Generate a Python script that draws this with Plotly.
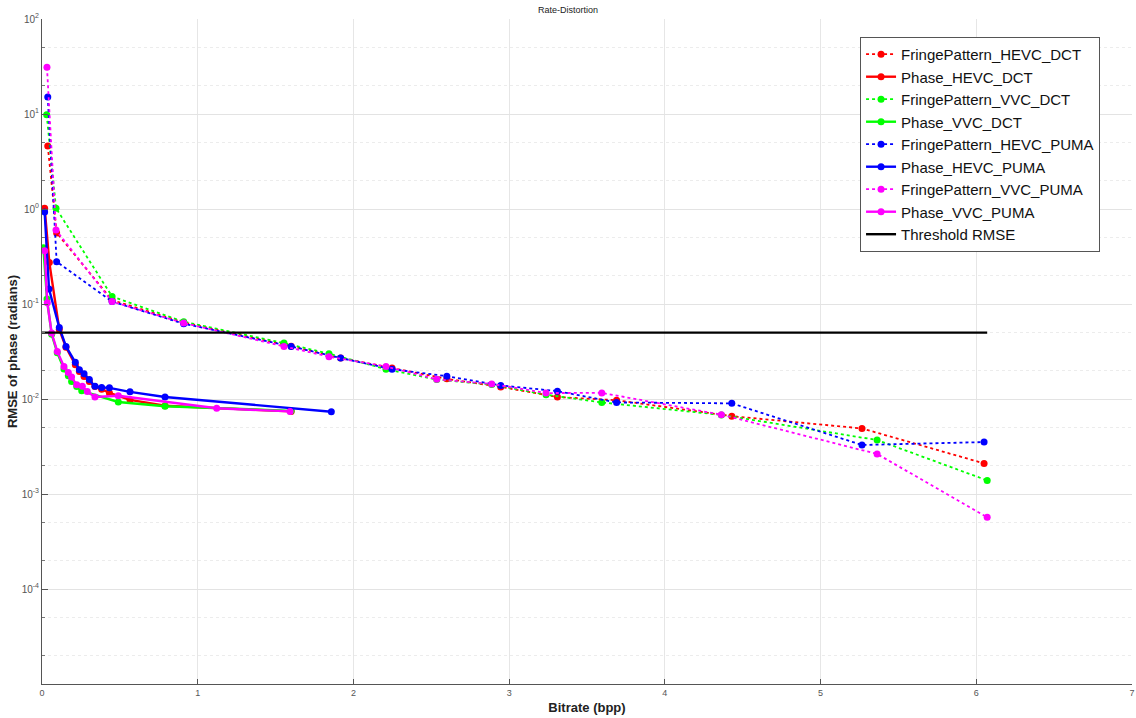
import plotly.graph_objects as go

# ---------------- data ----------------
fp_hevc_dct_x = [0.037, 0.094, 0.45, 0.91, 1.60, 1.918, 2.248, 2.60, 2.946, 3.31, 3.69, 4.43, 5.266, 6.05]
fp_hevc_dct_y = [4.6, 0.56, 0.11, 0.064, 0.036, 0.027, 0.0212, 0.0163, 0.0134, 0.0105, 0.0097, 0.0066, 0.0049, 0.0021]

ph_hevc_dct_x = [0.017, 0.047, 0.111, 0.154, 0.214, 0.24, 0.27, 0.304, 0.34, 0.383, 0.433, 0.565, 0.79, 1.60]
ph_hevc_dct_y = [1.02, 0.274, 0.054, 0.035, 0.023, 0.0195, 0.0173, 0.0153, 0.0135, 0.0127, 0.0116, 0.0098, 0.0085, 0.0074]

fp_vvc_dct_x = [0.030, 0.090, 0.45, 0.91, 1.554, 1.843, 2.209, 2.535, 2.888, 3.237, 3.595, 4.363, 5.363, 6.07]
fp_vvc_dct_y = [9.8, 1.02, 0.12, 0.065, 0.0388, 0.030, 0.0206, 0.0160, 0.0142, 0.0111, 0.0092, 0.0068, 0.0037, 0.00139]

ph_vvc_dct_x = [0.009, 0.032, 0.062, 0.098, 0.141, 0.169, 0.19, 0.223, 0.255, 0.49, 0.79, 1.60]
ph_vvc_dct_y = [0.39, 0.113, 0.048, 0.0307, 0.0207, 0.0176, 0.0153, 0.0135, 0.0122, 0.0093, 0.0084, 0.0075]

fp_hevc_puma_x = [0.037, 0.094, 0.45, 0.91, 1.60, 1.918, 2.248, 2.60, 2.946, 3.31, 3.69, 4.43, 5.266, 6.05]
fp_hevc_puma_y = [15.1, 0.279, 0.106, 0.062, 0.0358, 0.027, 0.0206, 0.0174, 0.0139, 0.0121, 0.0092, 0.0090, 0.00328, 0.00352]

ph_hevc_puma_x = [0.017, 0.045, 0.111, 0.154, 0.214, 0.24, 0.27, 0.304, 0.34, 0.383, 0.433, 0.565, 0.79, 1.858]
ph_hevc_puma_y = [0.93, 0.144, 0.0567, 0.0358, 0.0243, 0.0203, 0.0184, 0.016, 0.0136, 0.0132, 0.0131, 0.0119, 0.0105, 0.00735]

fp_vvc_puma_x = [0.032, 0.090, 0.45, 0.91, 1.554, 1.843, 2.209, 2.535, 2.888, 3.237, 3.595, 4.363, 5.363, 6.07]
fp_vvc_puma_y = [31.0, 0.60, 0.106, 0.063, 0.0358, 0.0279, 0.022, 0.0161, 0.0144, 0.01155, 0.0116, 0.00684, 0.00264, 0.000568]

ph_vvc_puma_x = [0.017, 0.034, 0.062, 0.098, 0.141, 0.169, 0.19, 0.223, 0.259, 0.291, 0.34, 0.49, 1.122, 1.593]
ph_vvc_puma_y = [0.364, 0.103, 0.0495, 0.0317, 0.022, 0.019, 0.017, 0.0141, 0.0136, 0.012, 0.0105, 0.0108, 0.008, 0.0074]

threshold_x = [0.0, 6.07]
threshold_y = [0.05, 0.05]

x_ticks = [0, 1, 2, 3, 4, 5, 6, 7]
y_tick_vals = [1e-4, 1e-3, 1e-2, 1e-1, 1e0, 1e1, 1e2]
y_tick_text = ["10<sup>-4</sup>", "10<sup>-3</sup>", "10<sup>-2</sup>", "10<sup>-1</sup>",
               "10<sup>0</sup>", "10<sup>1</sup>", "10<sup>2</sup>"]

series = [
    ("FringePattern_HEVC_DCT", fp_hevc_dct_x, fp_hevc_dct_y, "#ff0000", "dot"),
    ("Phase_HEVC_DCT", ph_hevc_dct_x, ph_hevc_dct_y, "#ff0000", "solid"),
    ("FringePattern_VVC_DCT", fp_vvc_dct_x, fp_vvc_dct_y, "#00ff00", "dot"),
    ("Phase_VVC_DCT", ph_vvc_dct_x, ph_vvc_dct_y, "#00ff00", "solid"),
    ("FringePattern_HEVC_PUMA", fp_hevc_puma_x, fp_hevc_puma_y, "#0000ff", "dot"),
    ("Phase_HEVC_PUMA", ph_hevc_puma_x, ph_hevc_puma_y, "#0000ff", "solid"),
    ("FringePattern_VVC_PUMA", fp_vvc_puma_x, fp_vvc_puma_y, "#ff00ff", "dot"),
    ("Phase_VVC_PUMA", ph_vvc_puma_x, ph_vvc_puma_y, "#ff00ff", "solid"),
]

fig = go.Figure()
for name, xs, ys, color, dash in series:
    fig.add_trace(go.Scatter(
        x=xs, y=ys, name=name, mode="lines+markers",
        line=dict(color=color, width=1.8 if dash == "dot" else 2.4, dash=dash),
        marker=dict(color=color, size=7, symbol="circle"),
    ))

fig.add_trace(go.Scatter(
    x=threshold_x, y=threshold_y, name="Threshold RMSE", mode="lines",
    line=dict(color="#000000", width=2.4),
))

fig.update_layout(
    width=1136, height=718,
    margin=dict(l=42, r=4, t=19, b=34),
    paper_bgcolor="white", plot_bgcolor="white",
    font=dict(family="Liberation Sans, Arial, sans-serif", color="#333333"),
    title=dict(text="Rate-Distortion", x=0.5, xanchor="center", y=0.986, yanchor="middle",
               font=dict(size=9, color="#222222")),
    showlegend=True,
    legend=dict(
        x=0.7505, y=0.973, xanchor="left", yanchor="top",
        bgcolor="white", bordercolor="#555555", borderwidth=1,
        font=dict(size=15, color="#111111", family="Liberation Sans, Arial, sans-serif"),
        tracegroupgap=0, itemwidth=30,
    ),
    xaxis=dict(
        range=[0, 7], tickvals=x_ticks, ticktext=[str(t) for t in x_ticks],
        ticks="inside", ticklen=5, tickcolor="#555555",
        showline=True, linecolor="#555555", linewidth=1,
        showgrid=True, gridcolor="#e6e6e6", gridwidth=1,
        zeroline=False, tickfont=dict(size=9, color="#555555"),
        automargin=False,
        title=dict(text="<b>Bitrate (bpp)</b>", font=dict(size=13, color="#222222"), standoff=6),
    ),
    yaxis=dict(
        type="log", range=[-5, 2],
        tickvals=y_tick_vals, ticktext=y_tick_text,
        ticks="inside", ticklen=6, tickcolor="#555555",
        showline=True, linecolor="#555555", linewidth=1,
        showgrid=True, gridcolor="#e3e3e3", gridwidth=1,
        zeroline=False, tickfont=dict(size=10, color="#555555"),
        automargin=False,
        minor=dict(ticks="inside", ticklen=3, tickcolor="#777777",
                   showgrid=True, gridcolor="#ececec", griddash="dot", gridwidth=1),
        title=dict(text="<b>RMSE of phase (radians)</b>", font=dict(size=13, color="#222222"), standoff=1),
    ),
)

fig.write_html("out.html", config={"displayModeBar": False},
               post_script="document.body.style.margin='0px';document.body.style.overflow='hidden';")
